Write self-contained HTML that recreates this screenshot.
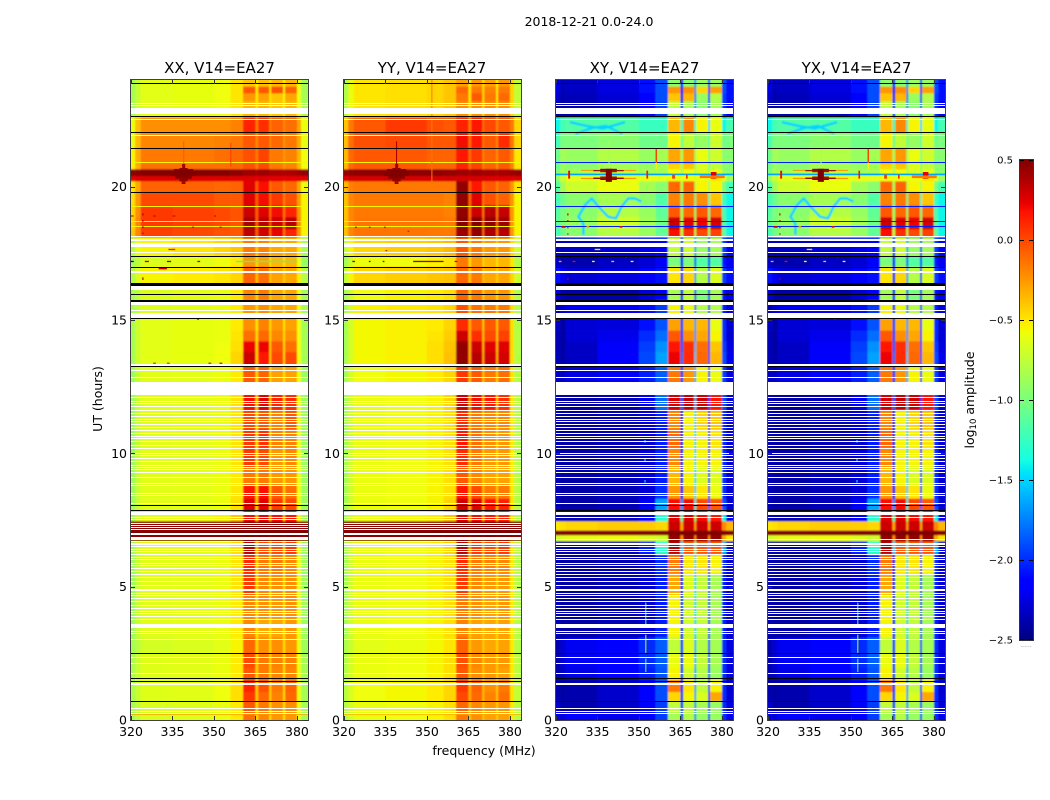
<!DOCTYPE html>
<html lang="en">
<head>
<meta charset="utf-8">
<title>2018-12-21 0.0-24.0</title>
<style>
html,body{margin:0;padding:0;background:#fff}
svg{display:block}
text{font-family:"DejaVu Sans","Liberation Sans",sans-serif;fill:#000}
</style>
</head>
<body>
<svg id="figure" xmlns="http://www.w3.org/2000/svg" width="1050" height="800" viewBox="0 0 1050 800">
  <defs>
    <filter id="soft" filterUnits="userSpaceOnUse" x="0" y="0" width="1050" height="800"><feGaussianBlur stdDeviation="0.7"/></filter>
  </defs>
  <rect width="1050" height="800" fill="#fff"/>
  <text x="589" y="26" font-size="12.5" text-anchor="middle">2018-12-21 0.0-24.0</text>
  <text x="219.5" y="73" font-size="15" text-anchor="middle">XX, V14=EA27</text>
  <text x="432" y="73" font-size="15" text-anchor="middle">YY, V14=EA27</text>
  <text x="644.5" y="73" font-size="15" text-anchor="middle">XY, V14=EA27</text>
  <text x="856.5" y="73" font-size="15" text-anchor="middle">YX, V14=EA27</text>
  <text transform="translate(102,399) rotate(-90)" font-size="12.5" text-anchor="middle">UT (hours)</text>
  <text x="484" y="755" font-size="12.5" text-anchor="middle">frequency (MHz)</text>
  <text transform="translate(974,400) rotate(-90)" font-size="12.5" text-anchor="middle">log<tspan font-size="8.5" dy="2">10</tspan><tspan dy="-2"> amplitude</tspan></text>
  <text x="1026" y="647" font-size="6" text-anchor="middle" style="fill:#888">......</text>
  <g id="panels"></g>
  <g id="colorbar"></g>
</svg>
<script>
const xTickLabels = [320, 335, 350, 365, 380];
const yTickLabels = [0, 5, 10, 15, 20];
const colorbarTicks = [0.5, 0, -0.5, -1, -1.5, -2, -2.5];

const freqEdges = [320,321.5,323.5,335,350,356,360.5,365,366,370,370.7,375,375.7,380,381.5,384];
const utEdges = [24,23.75,23.5,23.2,22.6,22,21.45,20.85,20.65,20.4,20.2,19.8,19.3,18.85,18.4,18.1,17.4,17,16.3,15.75,15.05,14.6,14.2,13.8,13.25,12.25,11.6,10.9,10.2,9.5,8.8,8.3,7.85,7.45,7.1,6.93,6.7,6.2,5.5,4.7,3.8,3.1,2.5,1.95,1.5,1.05,0.7,0.3,0];

/* log10 amplitude x 100, one row per UT band, one value per frequency bin */
const xxValues = [
[-85,-72,-62,-61,-58,-50,-40,-55,-38,-50,-35,-55,-35,-58,-85],
[-85,-72,-62,-61,-58,-50,-5,-50,-5,-50,-2,-55,-8,-58,-85],
[-85,-72,-62,-61,-58,-50,-25,-50,-28,-50,-40,-55,-30,-58,-85],
[-85,-72,-62,-61,-58,-50,-35,-50,-35,-50,-40,-55,-35,-58,-85],
[-60,-38,-22,-22,-22,-18,12,-15,8,-18,-8,-20,-12,-30,-60],
[-60,-36,-20,-20,-18,-15,-5,-20,-5,-20,-10,-25,-15,-32,-60],
[-55,-32,-15,-15,-12,-10,-2,-15,2,-18,-15,-25,-18,-35,-58],
[-55,-32,-12,-12,-12,-10,-2,-15,0,-18,-15,-25,-18,-35,-58],
[46,47,48,48,48,46,42,38,42,38,38,38,38,42,44],
[24,26,26,26,26,26,26,24,26,24,24,24,24,24,24],
[-50,-30,-8,-8,-10,-8,25,-5,18,-15,-5,-20,-10,-30,-60],
[-48,-25,0,0,-5,-5,25,-5,20,-12,5,-18,-2,-28,-55],
[-45,-22,5,3,0,-3,30,-5,25,-10,20,-15,12,-25,-55],
[-42,-20,5,3,0,-3,40,-5,35,-5,30,-10,35,-22,-55],
[-40,-20,3,0,-3,-5,33,-5,28,-10,22,-15,12,-25,-55],
[-80,-60,-55,-50,-45,-40,-15,-40,-18,-40,-30,-42,-30,-50,-85],
[-85,-75,-65,-62,-58,-52,-25,-45,-28,-48,-35,-50,-35,-58,-90],
[-80,-65,-55,-52,-50,-45,-8,-35,-12,-40,-28,-42,-30,-52,-80],
[-85,-75,-65,-62,-60,-52,-20,-45,-15,-45,-30,-48,-30,-58,-85],
[-85,-75,-64,-62,-60,-52,-25,-45,-22,-45,-30,-48,-30,-58,-85],
[-85,-70,-62,-61,-60,-52,-22,-48,-18,-48,-25,-50,-28,-58,-85],
[-85,-70,-62,-61,-60,-50,-12,-45,-10,-45,-20,-48,-22,-58,-85],
[-85,-70,-62,-61,-58,-48,22,-42,22,-42,-5,-46,-12,-58,-85],
[-85,-70,-62,-61,-58,-45,30,-40,15,-42,0,-45,0,-58,-85],
[-88,-72,-63,-62,-60,-52,-5,-45,-8,-48,-28,-50,-28,-60,-88],
[-88,-72,-63,-62,-60,-48,18,-40,25,-42,12,-45,8,-60,-88],
[-88,-72,-63,-62,-60,-50,0,-45,-5,-48,-18,-50,-5,-60,-88],
[-88,-72,-63,-62,-60,-50,5,-45,8,-48,-18,-50,-18,-60,-88],
[-88,-72,-63,-62,-60,-50,5,-45,0,-48,-25,-50,-20,-60,-88],
[-88,-72,-63,-62,-60,-52,-15,-48,-15,-50,-25,-50,-25,-60,-88],
[-88,-72,-63,-62,-60,-50,15,-42,18,-45,-5,-48,-12,-60,-88],
[-88,-72,-63,-62,-60,-48,25,-40,25,-42,5,-45,0,-60,-88],
[-85,-70,-62,-60,-55,-40,20,-35,22,-35,18,-40,15,-55,-85],
[45,45,46,46,46,46,48,44,48,44,48,44,48,46,45],
[50,50,50,50,50,50,50,50,50,50,50,50,50,50,50],
[45,45,46,46,46,46,48,44,48,44,48,44,48,46,45],
[-85,-70,-62,-62,-60,-48,35,-38,0,-42,0,-45,5,-60,-88],
[-88,-72,-63,-62,-60,-50,10,-45,-15,-48,-15,-50,-20,-60,-88],
[-88,-72,-63,-62,-60,-50,5,-45,-20,-48,-22,-50,-22,-60,-88],
[-88,-72,-63,-62,-60,-52,-20,-48,-22,-50,-25,-50,-22,-60,-88],
[-88,-72,-63,-62,-60,-52,-20,-48,-30,-50,-30,-50,-25,-60,-88],
[-85,-78,-68,-65,-62,-55,-10,-45,-22,-48,-22,-50,-25,-60,-88],
[-82,-72,-64,-63,-60,-52,0,-42,-15,-45,-18,-48,-18,-60,-85],
[-82,-72,-64,-63,-60,-52,-5,-42,-15,-45,-20,-48,-20,-60,-85],
[-82,-72,-64,-63,-58,-48,12,-40,-2,-45,-15,-48,-8,-60,-85],
[-82,-72,-64,-63,-58,-48,5,-40,-10,-45,-18,-48,-10,-60,-85],
[-85,-74,-65,-64,-60,-52,-5,-45,-15,-48,-22,-50,-22,-60,-85],
[-85,-74,-65,-64,-60,-52,-12,-45,-20,-48,-25,-50,-25,-60,-85]
];

const yyValues = [
[-80,-60,-50,-48,-45,-40,-28,-55,-25,-50,-28,-55,-25,-45,-75],
[-80,-60,-50,-48,-45,-40,-10,-50,-15,-48,-18,-52,-15,-45,-75],
[-80,-60,-50,-48,-45,-40,-15,-50,-5,-48,-15,-52,-10,-45,-75],
[-80,-60,-50,-48,-45,-40,-22,-50,-22,-48,-22,-52,-22,-45,-75],
[-40,-15,-5,5,-2,-5,12,-15,15,-12,0,-20,-5,-15,-45],
[-38,-12,-2,0,-5,-5,20,-12,15,-15,-5,-20,10,-15,-45],
[-35,-10,-5,-5,-8,-8,15,-10,5,-18,-8,-22,-5,-18,-50],
[-35,-10,-5,-5,-8,-8,12,-10,3,-18,-8,-22,-5,-18,-50],
[44,45,46,46,46,44,42,38,42,38,40,38,40,42,44],
[26,28,28,28,28,28,28,26,28,26,26,26,26,26,26],
[-35,-18,-15,-15,-15,-15,45,-5,15,-15,-5,-20,-8,-25,-50],
[-38,-20,-15,-15,-15,-18,45,-8,25,-15,-2,-20,-8,-25,-55],
[-38,-20,-15,-15,-15,-18,45,-8,30,-15,35,-15,32,-25,-55],
[-38,-20,-14,-14,-14,-15,48,-5,50,-10,45,-12,42,-25,-55],
[-38,-20,-14,-14,-15,-15,42,-8,45,-12,38,-15,35,-25,-55],
[-75,-55,-45,-42,-40,-35,-5,-40,-15,-40,-25,-42,-25,-45,-70],
[-85,-70,-60,-58,-55,-50,-15,-45,-25,-45,-35,-50,-35,-50,-80],
[-75,-55,-45,-42,-40,-38,-10,-38,-15,-40,-30,-42,-30,-45,-70],
[-85,-70,-58,-55,-52,-48,-8,-42,-15,-45,-25,-48,-25,-50,-80],
[-85,-68,-55,-52,-50,-45,-2,-40,-12,-45,-15,-45,-15,-48,-80],
[-85,-68,-56,-54,-52,-45,10,-30,-5,-42,-5,-40,-5,-48,-80],
[-85,-68,-56,-54,-50,-42,30,-30,8,-40,0,-40,3,-48,-80],
[-85,-68,-56,-54,-48,-40,45,-28,30,-35,25,-35,25,-48,-80],
[-85,-68,-56,-54,-48,-38,45,-28,35,-32,30,-32,28,-48,-80],
[-85,-68,-58,-56,-52,-45,5,-35,-5,-42,-15,-45,-12,-50,-80],
[-85,-70,-60,-58,-55,-45,30,-25,20,-35,15,-40,8,-50,-80],
[-85,-70,-60,-58,-55,-48,10,-35,-15,-42,-20,-45,-20,-52,-80],
[-85,-70,-60,-58,-55,-48,15,-35,-12,-42,-22,-45,-25,-52,-80],
[-85,-70,-60,-58,-55,-48,10,-35,-15,-42,-25,-45,-25,-52,-80],
[-85,-70,-60,-58,-55,-48,-5,-38,-20,-42,-28,-45,-28,-52,-80],
[-85,-70,-60,-58,-55,-48,15,-35,0,-40,-15,-42,-15,-52,-80],
[-85,-70,-60,-58,-55,-45,30,-30,25,-35,15,-38,12,-50,-80],
[-85,-70,-60,-56,-52,-40,25,-30,20,-32,15,-35,12,-48,-80],
[48,48,48,48,48,48,48,46,48,46,48,46,48,48,48],
[50,50,50,50,50,50,50,50,50,50,50,50,50,50,50],
[45,45,46,46,46,46,48,44,48,44,48,44,48,46,45],
[-85,-70,-60,-58,-55,-45,35,-30,5,-38,0,-40,5,-50,-80],
[-85,-70,-60,-58,-55,-48,10,-38,-15,-42,-18,-45,-20,-52,-80],
[-85,-70,-60,-58,-55,-48,5,-38,-20,-42,-25,-45,-25,-52,-80],
[-85,-70,-60,-58,-55,-48,-15,-40,-22,-42,-28,-45,-25,-52,-80],
[-85,-70,-60,-58,-55,-48,-18,-40,-28,-42,-30,-45,-28,-52,-80],
[-82,-72,-62,-60,-56,-50,-8,-38,-25,-42,-30,-45,-28,-52,-80],
[-80,-68,-60,-58,-55,-48,-2,-35,-20,-40,-25,-42,-25,-52,-78],
[-80,-68,-60,-58,-55,-48,-5,-35,-22,-40,-25,-42,-28,-52,-78],
[-78,-66,-58,-56,-52,-45,5,-32,-8,-38,-22,-40,-15,-50,-75],
[-78,-66,-58,-56,-52,-45,0,-32,-10,-38,-18,-40,-12,-50,-75],
[-80,-68,-60,-58,-55,-48,-10,-35,-20,-40,-25,-42,-25,-52,-78],
[-80,-68,-60,-58,-55,-48,-15,-38,-22,-40,-28,-42,-28,-52,-78]
];

const xyValues = [
[-225,-235,-232,-225,-210,-190,-95,-200,-95,-170,-90,-205,-90,-190,-210],
[-225,-235,-232,-225,-210,-190,-25,-200,-22,-170,-45,-205,-28,-190,-210],
[-230,-238,-235,-228,-212,-190,-40,-200,-35,-175,-90,-205,-80,-195,-210],
[-240,-240,-238,-232,-218,-195,-75,-200,-85,-175,-95,-205,-85,-200,-215],
[-140,-120,-115,-115,-125,-125,-35,-125,-20,-130,-55,-150,-60,-140,-120],
[-120,-100,-100,-95,-105,-105,-55,-105,-75,-105,-90,-115,-70,-105,-100],
[-105,-85,-90,-80,-90,-85,-30,-85,-25,-90,-60,-100,-70,-95,-95],
[-105,-90,-95,-85,-90,-85,-45,-85,-40,-90,-65,-100,-75,-95,-95],
[-100,-85,-85,-80,-85,-85,-60,-80,-60,-85,-65,-90,-60,-90,-95],
[-90,-70,-62,-60,-60,-60,-60,-60,-60,-60,-60,-60,-50,-65,-85],
[-115,-85,-70,-60,-85,-95,-10,-85,-8,-80,-55,-90,-55,-100,-120],
[-120,-105,-95,-85,-95,-115,-18,-100,-15,-105,-22,-120,-40,-125,-140],
[-115,-100,-95,-80,-90,-110,-5,-90,-10,-95,-5,-105,-10,-120,-140],
[-110,-100,-90,-70,-85,-105,30,-85,25,-85,22,-90,28,-115,-140],
[-120,-105,-95,-80,-90,-110,18,-80,8,-85,0,-95,2,-110,-140],
[-235,-235,-232,-228,-222,-212,-75,-195,-70,-165,-90,-200,-85,-195,-215],
[-232,-238,-238,-232,-228,-218,-100,-200,-100,-185,-115,-210,-115,-210,-220],
[-210,-220,-228,-225,-218,-208,-50,-195,-45,-165,-80,-200,-65,-195,-210],
[-228,-238,-240,-240,-228,-212,-85,-200,-75,-185,-100,-210,-85,-210,-222],
[-238,-228,-220,-218,-208,-195,-55,-195,-60,-180,-80,-200,-80,-205,-225],
[-232,-240,-228,-226,-210,-188,-28,-190,-35,-165,-35,-200,-60,-200,-228],
[-236,-240,-228,-222,-200,-180,-5,-190,-22,-165,-30,-200,-55,-200,-228],
[-236,-240,-232,-218,-195,-170,15,-185,8,-155,-12,-195,-40,-195,-225],
[-236,-240,-232,-218,-192,-165,22,-180,10,-150,-10,-190,-35,-190,-222],
[-232,-232,-224,-218,-205,-185,-15,-190,-25,-160,-55,-200,-60,-195,-225],
[-236,-240,-240,-236,-220,-180,28,-185,32,-155,30,-195,15,-190,-228],
[-236,-240,-240,-236,-228,-205,-20,-200,-55,-150,-45,-205,-40,-200,-228],
[-236,-240,-240,-236,-228,-205,-10,-200,-55,-150,-55,-205,-50,-200,-228],
[-236,-240,-240,-236,-228,-205,-20,-200,-55,-150,-55,-205,-55,-200,-228],
[-236,-240,-240,-236,-228,-205,-35,-200,-55,-150,-65,-205,-65,-200,-228],
[-236,-240,-240,-236,-228,-200,-25,-200,-40,-150,-50,-205,-60,-200,-228],
[-236,-240,-240,-236,-220,-165,18,-170,20,-140,0,-185,-5,-190,-228],
[-232,-236,-236,-232,-212,-130,25,-120,25,-100,20,-140,15,-140,-222],
[-50,-48,-45,-42,-42,-45,30,-30,30,-30,30,-30,30,-20,-35],
[50,50,50,50,50,50,50,50,50,50,50,50,50,50,50],
[-70,-65,-62,-60,-65,-70,45,-20,45,-20,45,-20,45,-30,-50],
[-236,-240,-240,-236,-205,-130,35,-150,-5,-125,-5,-170,-5,-160,-228],
[-236,-240,-240,-236,-228,-200,-15,-200,-50,-150,-50,-205,-55,-200,-228],
[-236,-240,-240,-236,-228,-205,-30,-200,-65,-150,-75,-205,-85,-205,-228],
[-236,-240,-240,-236,-228,-205,-55,-200,-70,-150,-75,-205,-85,-205,-228],
[-236,-240,-240,-236,-228,-205,-55,-200,-70,-150,-75,-205,-85,-205,-228],
[-238,-228,-220,-212,-200,-185,-75,-195,-65,-160,-80,-200,-85,-200,-225],
[-238,-228,-220,-212,-200,-185,-60,-195,-60,-160,-75,-200,-85,-200,-225],
[-238,-232,-224,-216,-205,-188,-55,-195,-70,-165,-80,-200,-90,-200,-225],
[-238,-240,-238,-230,-215,-190,-15,-195,-50,-165,-75,-205,-55,-200,-228],
[-238,-240,-238,-230,-215,-190,-45,-195,-55,-165,-65,-205,-30,-200,-228],
[-228,-238,-238,-230,-215,-195,-75,-195,-75,-170,-85,-205,-90,-200,-225],
[-222,-226,-215,-222,-212,-195,-85,-195,-80,-170,-90,-205,-90,-200,-220]
];
const yxValues = xyValues;

/* thin flagged rows and flagged bands, UT hours */
const whiteLines = [23.13,23.04,21.9,18.12,17.52,15.37,13.09,12.83,12.08,11.96,11.88,11.75,11.6,11.5,11.37,11.28,11.18,11.09,10.98,10.85,10.75,10.62,10.54,10.44,10.31,10.19,10,9.9,9.81,9.69,9.56,9.48,9.38,9.27,9.1,8.86,8.78,8.48,8.4,8.13,7.59,6.75,6.5,6.41,6.31,6.22,6.1,6,5.88,5.79,5.69,5.56,5.44,5.34,5.19,5.06,4.91,4.84,4.75,4.65,4.56,4.44,4.31,4.19,4.06,3.99,3.87,3.75,3.31,3.25,3,2.33,2.1,1.75,0.33,0.25];
const whiteBandStarts = [22.96,22.55,18.04,17.9,16.84,16.28,15.68,15.27,13.35,12.69,7.81,6.64,3.59,1.38,0.45];
const whiteBandEnds   = [22.75,22.5,17.96,17.75,16.78,16.12,15.56,15.1,13.28,12.22,7.69,6.56,3.44,1.3,0.4];
const blackLines = [23.85,22.62,22.04,21.44,19.79,17.39,16.98,15.96,15.06,13.25,8.06,7.84,2.5,1.56,0.7];
const blackBandStarts = [16.4,15.75,1.48];
const blackBandEnds   = [16.28,15.68,1.44];
const dropoutLines = [20.9,19.24,18.68,18.49];
const dropoutXX = -55;
const dropoutYY = -55;
const dropoutXY = -205;
const saturatedStripes = [7.5,7.35,7.28,7.2,7.13,7,6.94,6.86,6.79,6.71];

/* isolated events: UT top, UT bottom, MHz low, MHz high, value x 100 */
const xxEvents = [
[21.7,20.85,338.9,339.2,-5],[21.65,20.75,355.9,356.2,5],
[20.85,20.7,338.5,339.6,40],[20.7,20.66,337.5,340.5,45],[20.66,20.55,335.5,342.5,50],[20.55,20.4,334.5,343.5,50],[20.4,20.3,336,342,48],[20.3,20.2,337.5,340.5,45],[20.2,20.1,338.3,339.7,40],
[19,18.92,324.1,324.5,40],[18.75,18.68,324.1,324.5,40],[18.52,18.45,324.1,324.5,40],[18.28,18.22,324.1,324.5,40],
[18.92,18.88,320,321,30],[18.92,18.88,328,329,30],[18.92,18.88,335,336,30],[18.92,18.88,350,350.8,30],[18.5,18.46,342,342.8,35],[18.5,18.46,352,352.8,35],
[17.67,17.62,333.5,336,15],[17.22,17.17,320,321,-250],[17.22,17.17,325,326.5,30],[17.22,17.17,333,334.5,35],[17.22,17.17,344,345,30],[17.22,17.17,358,380,-130],[16.95,16.9,330,333,30],
[16.6,16.5,324.1,324.5,40],[15.1,15.06,330,330.6,40],[13.4,13.36,328,329,20],[13.4,13.36,333,334,20],[13.4,13.36,348,349,35],[13.4,13.36,352,353,45],[0.25,0.2,320,384,-25],[15.05,15,344,344.5,45]
];
const yyEvents = [
[24,20.1,351.6,351.95,-15],[21.7,20.85,338.8,339.2,40],
[20.85,20.7,338.5,339.6,40],[20.7,20.66,337.5,340.5,45],[20.66,20.55,335.5,342.5,50],[20.55,20.4,334.5,343.5,50],[20.4,20.3,336,342,48],[20.3,20.2,337.5,340.5,45],[20.2,20.1,338.3,339.7,40],
[18.5,18.46,324,324.6,45],[18.5,18.46,329,329.6,35],[18.5,18.46,334.5,335.1,40],[18.35,18.31,343,343.6,30],
[17.22,17.17,323,324,35],[17.22,17.17,329,329.6,35],[17.22,17.17,334,334.6,35],[17.22,17.17,345,356,35],[17.22,17.17,360,361,25],[17.62,17.58,335,335.6,30],[0.25,0.2,320,384,-30]
];
const xyEvents = [
[20.49,20.43,320,384,-165],
[21.7,20.7,339,339.3,-85],[21.45,20.9,356,356.5,5],[20.9,20.65,356,356.5,-55],
[20.63,20.6,329,349,-25],[20.33,20.3,329,349,-20],
[20.67,20.62,336,342,48],[20.62,20.58,333.5,344.5,45],[20.58,20.55,336,342,48],
[20.38,20.34,336,342,48],[20.34,20.29,333.5,344.5,45],[20.29,20.25,336,342,48],
[20.67,20.18,338,340.2,50],
[20.6,20.3,324.4,325.1,20],[20.6,20.3,352.7,353.3,15],[20.55,20.3,376,378,25],[20.42,20.32,372,381,-15],[20.45,20.3,362,363,5],[20.45,20.3,367,367.6,10],
[19,18.92,324.1,324.5,45],[18.75,18.68,324.1,324.5,45],[18.5,18.44,324.1,324.5,45],[18.25,18.2,324.1,324.5,45],[18.52,18.46,322,323.5,30],[18.52,18.46,331,332,-30],[18.52,18.46,343,344,20],
[17.67,17.62,334,336,-50],[17.22,17.17,321,322,-30],[17.22,17.17,326,327,20],[17.22,17.17,333,334,-60],[17.22,17.17,340,341,-40],[17.22,17.17,347,348,-60],[17.4,17.35,345,345.6,25],[15.05,15,344,344.5,45],[16.6,16.5,324.1,324.5,40],
[10.5,10.4,352,352.3,-130],[9.8,9.7,352,352.3,-130],[9,8.9,352,352.3,-130],[4.4,3.6,352.3,352.6,-110],[3.2,2.5,352.3,352.6,-70],[2.3,1.8,352.3,352.6,-100]
];

/* blue arcs in the cross-hand panels: MHz and UT of each vertex */
const waveFreq = [329.9,329.9,328.1,330.5,332.9,335.9,338.9,341.7,343.7,346.1,348.5,350.9];
const waveUT = [18.19,18.62,18.87,19.31,19.56,19.19,18.87,18.81,19.25,19.56,19.56,19.44];
const arcUpperFreq = [325,331,337,345];
const arcUpperUT = [22.42,22.28,22.18,22.42];
const arcLowerFreq = [327,333,338,344];
const arcLowerUT = [21.98,22.2,22.28,21.98];
const waveValue = -150;

const panelLefts = [131, 344, 556, 768];
const panelNames = ['xx', 'yy', 'xy', 'yx'];
const panelWidth = 177, panelTop = 80, panelBottom = 720;
const freqMin = 320, freqMax = 384, utMin = 0, utMax = 24;
const NS = 'http://www.w3.org/2000/svg';

function lerpStops(stops, t) {
  for (let i = 1; i < stops.length; i++) {
    if (t <= stops[i][0]) {
      const a = stops[i - 1], b = stops[i];
      return a[1] + (b[1] - a[1]) * (t - a[0]) / (b[0] - a[0]);
    }
  }
  return stops[stops.length - 1][1];
}
const rStops = [[0,0],[0.35,0],[0.66,1],[0.89,1],[1,0.5]];
const gStops = [[0,0],[0.125,0],[0.375,1],[0.64,1],[0.91,0],[1,0]];
const bStops = [[0,0.5],[0.11,1],[0.34,1],[0.65,0],[1,0]];
function jet(logAmp) {
  const t = Math.max(0, Math.min(1, (logAmp + 2.5) / 3));
  return 'rgb(' + [rStops, gStops, bStops].map(s => Math.round(255 * lerpStops(s, t))).join(',') + ')';
}
function xScale(left, f) { return left + (f - freqMin) / (freqMax - freqMin) * panelWidth; }
function yScale(ut) { return panelBottom - (ut - utMin) / (utMax - utMin) * (panelBottom - panelTop); }

function svgEl(tag, parent, attrs) {
  const el = document.createElementNS(NS, tag);
  for (const k in attrs) el.setAttribute(k, attrs[k]);
  parent.appendChild(el);
  return el;
}

function drawLine(parent, left, top, bottom, color) {
  const y0 = Math.round(yScale(top));
  const h = Math.max(1, Math.round(yScale(bottom) - yScale(top)));
  return svgEl('rect', parent, {x: left, y: y0, width: panelWidth, height: h, fill: color, 'shape-rendering': 'crispEdges'});
}

function drawPanel(index) {
  const name = panelNames[index];
  const left = panelLefts[index];
  const values = [xxValues, yyValues, xyValues, yxValues][index];
  const events = [xxEvents, yyEvents, xyEvents, xyEvents][index];
  const dropout = [dropoutXX, dropoutYY, dropoutXY, dropoutXY][index];
  const root = document.getElementById('panels');

  const group = svgEl('g', root, {});
  
  

  const clip = svgEl('clipPath', group, {id: 'clip-' + name});
  svgEl('rect', clip, {x: left, y: panelTop, width: panelWidth, height: panelBottom - panelTop});

  const clipped = svgEl('g', group, {'clip-path': 'url(#clip-' + name + ')'});
  const heat = svgEl('g', clipped, {filter: 'url(#soft)'});
  
  

  values.forEach((row, r) => {
    row.forEach((v, c) => {
      const x0 = xScale(left, freqEdges[c]) - (c === 0 ? 4 : 0);
      const x1 = xScale(left, freqEdges[c + 1]) + (c === row.length - 1 ? 4 : 0);
      const y0 = yScale(utEdges[r]) - (r === 0 ? 4 : 0);
      const y1 = yScale(utEdges[r + 1]) + (r === values.length - 1 ? 4 : 0);
      const cell = svgEl('rect', heat, {x: x0, y: y0, width: x1 - x0 + 0.3, height: y1 - y0 + 0.3, fill: jet(v / 100)});
      
      
    });
  });

  if (index >= 2) {
    [[waveFreq, waveUT], [arcUpperFreq, arcUpperUT], [arcLowerFreq, arcLowerUT]].forEach(pair => {
      const pts = pair[0].map((f, i) => xScale(left, f) + ',' + yScale(pair[1][i])).join(' ');
      const arc = svgEl('polyline', heat, {points: pts, fill: 'none', stroke: jet(waveValue / 100), 'stroke-width': 2.6, 'stroke-linejoin': 'round'});
      
      
    });
  }

  dropoutLines.forEach(ut => {
    const line = drawLine(clipped, left, ut + 0.02, ut - 0.02, jet(dropout / 100));
    
    
  });

  events.forEach(e => {
    const x0 = xScale(left, e[2]);
    const mark = svgEl('rect', clipped, {x: x0, y: yScale(e[0]), width: Math.max(1, xScale(left, e[3]) - x0), height: Math.max(1, yScale(e[1]) - yScale(e[0])), fill: jet(e[4] / 100)});
    
    
  });

  if (index < 2) {
    saturatedStripes.forEach(ut => {
      const line = drawLine(clipped, left, ut + 0.02, ut - 0.02, '#fff');
      
      
    });
  }

  whiteLines.forEach(ut => {
    const line = drawLine(clipped, left, ut + 0.02, ut - 0.02, '#fff');
    
    
  });
  whiteBandStarts.forEach((ut, i) => {
    const band = drawLine(clipped, left, ut, whiteBandEnds[i], '#fff');
    
    
  });
  blackLines.forEach(ut => {
    const line = drawLine(clipped, left, ut + 0.02, ut - 0.02, '#000');
    
    
  });
  blackBandStarts.forEach((ut, i) => {
    const band = drawLine(clipped, left, ut, blackBandEnds[i], '#000');
    
    
  });

  const frame = svgEl('rect', group, {x: left - 0.5, y: panelTop - 0.5, width: panelWidth + 1, height: panelBottom - panelTop + 1, fill: 'none', stroke: '#000', 'stroke-opacity': 0.75, 'stroke-width': 1});
  
  

  xTickLabels.forEach(f => {
    const x = Math.round(xScale(left, f)) + 0.5;
    const tick = svgEl('path', group, {d: 'M' + x + ' ' + panelBottom + 'v-4M' + x + ' ' + panelTop + 'v4', stroke: '#333', 'stroke-width': 1, fill: 'none'});
    
    
    const label = svgEl('text', group, {x: xScale(left, f), y: panelBottom + 16, 'font-size': 12.5, 'text-anchor': 'middle'});
    label.textContent = String(f);
    
    
  });
  yTickLabels.forEach(ut => {
    const y = Math.round(yScale(ut)) + 0.5;
    const tick = svgEl('path', group, {d: 'M' + left + ' ' + y + 'h4M' + (left + panelWidth) + ' ' + y + 'h-4', stroke: '#333', 'stroke-width': 1, fill: 'none'});
    
    
    const label = svgEl('text', group, {x: left - 4, y: yScale(ut) + 4.5, 'font-size': 12.5, 'text-anchor': 'end'});
    label.textContent = String(ut);
    
    
  });
}

function drawColorbar() {
  const root = document.getElementById('colorbar');
  const barX = 1020, barW = 13, barTop = 160, barBottom = 640;
  const yOf = v => barBottom - (v + 2.5) / 3 * (barBottom - barTop);
  for (let y = barTop; y < barBottom; y++) {
    const v = (barBottom - y - 0.5) / (barBottom - barTop) * 3 - 2.5;
    const strip = svgEl('rect', root, {x: barX, y: y, width: barW, height: 1.2, fill: jet(v), 'shape-rendering': 'crispEdges'});
    
    
  }
  const frame = svgEl('rect', root, {x: barX - 0.5, y: barTop - 0.5, width: barW + 1, height: barBottom - barTop + 1, fill: 'none', stroke: '#000', 'stroke-opacity': 0.8});
  
  
  colorbarTicks.forEach(v => {
    const y = Math.min(barBottom - 0.5, Math.max(barTop + 0.5, Math.round(yOf(v)) + 0.5));
    const tick = svgEl('path', root, {d: 'M' + barX + ' ' + y + 'h4M' + (barX + barW) + ' ' + y + 'h-4', stroke: '#000', 'stroke-width': 1, fill: 'none'});
    
    
    const label = svgEl('text', root, {x: 1013, y: yOf(v) + 3.5, 'font-size': 10, 'text-anchor': 'end'});
    label.textContent = v.toFixed(1).replace('-', '\u2212');
    
    
  });
}

panelNames.forEach((n, i) => drawPanel(i));
drawColorbar();
</script>
</body>
</html>
